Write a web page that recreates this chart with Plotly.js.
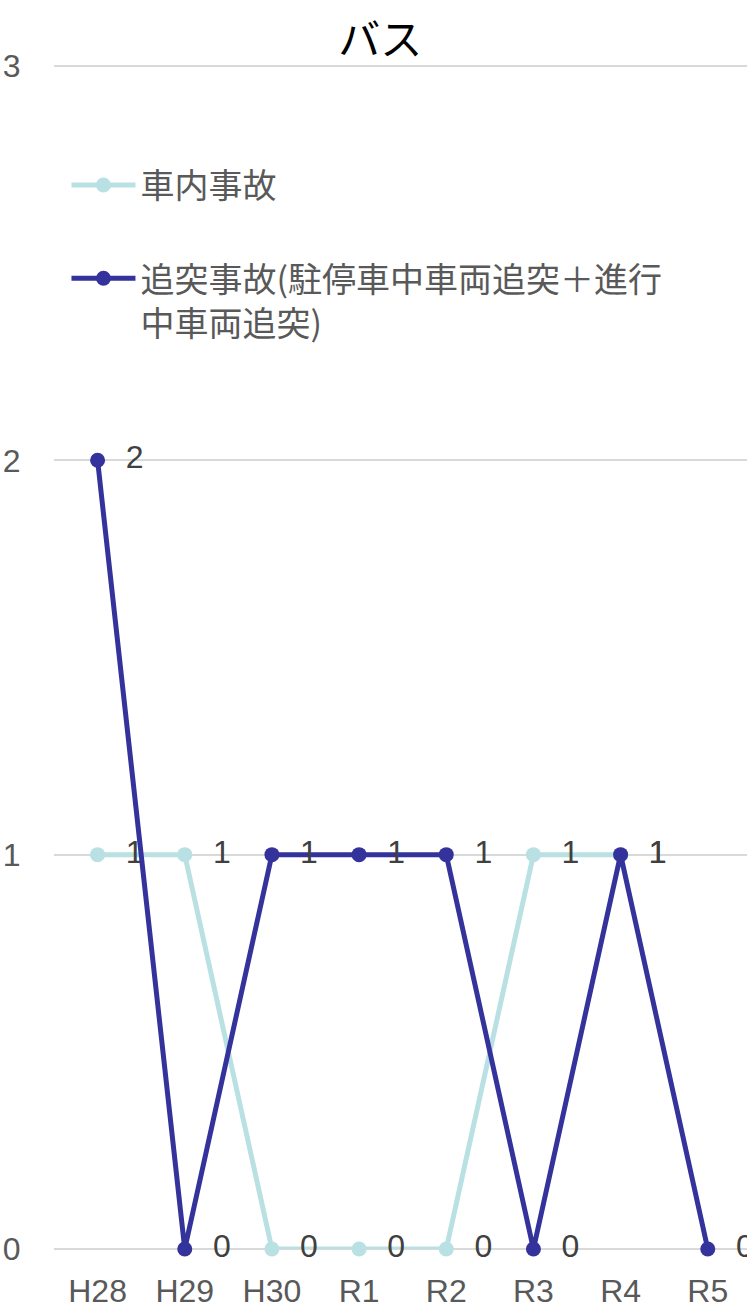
<!DOCTYPE html>
<html>
<head>
<meta charset="utf-8">
<script src="https://cdn.plot.ly/plotly-3.0.1.min.js"></script>
<style>html,body{margin:0;padding:0;background:#fff;}#chart{width:747px;height:1305px;}</style>
</head>
<body>
<div id="chart"></div>
<script>
const categories = ['H28','H29','H30','R1','R2','R3','R4','R5'];
const seriesNames = ['車内事故', '追突事故(駐停車中車両追突＋進行<br>中車両追突)'];
const inVehicle = [1, 1, 0, 0, 0, 1, 1, null];
const rearEnd = [2, 0, 1, 1, 1, 0, 1, 0];
const yTicks = [0, 1, 2, 3];

const FONT = 'Liberation Sans, Arial, Noto Sans CJK JP, sans-serif';
const NBSP = '\u00a0\u00a0';

function labels(arr){ return arr.map(v => v === null ? '' : NBSP + v); }

const traces = [
  {
    x: categories, y: inVehicle, name: seriesNames[0], type: 'scatter', mode: 'lines+markers+text',
    line: {color: '#b9e0e3', width: 5}, marker: {color: '#b9e0e3', size: 15},
    text: labels(inVehicle), textposition: 'middle right',
    textfont: {family: FONT, size: 32, color: '#404040'},
    cliponaxis: false, legendgroup: 'a', connectgaps: false
  },
  {
    x: categories, y: rearEnd, name: seriesNames[1], type: 'scatter', mode: 'lines+markers+text',
    line: {color: '#34339b', width: 5}, marker: {color: '#34339b', size: 15},
    text: labels(rearEnd), textposition: 'middle right',
    textfont: {family: FONT, size: 32, color: '#404040'},
    cliponaxis: false, legendgroup: 'b'
  }
];

const layout = {
  width: 747, height: 1305,
  margin: {l: 54, r: 0, t: 64, b: 56, pad: 0},
  paper_bgcolor: '#ffffff', plot_bgcolor: '#ffffff',
  font: {family: FONT, color: '#595959'},
  title: {text: 'バス', font: {family: 'Noto Sans CJK JP, sans-serif', size: 42, color: '#000000'},
          x: 0.509, xref: 'container', xanchor: 'center', y: 0.969, yref: 'container', yanchor: 'middle'},
  xaxis: {
    type: 'category', range: [-0.5, 7.45], showgrid: false, zeroline: false, showline: false,
    tickfont: {family: FONT, size: 32, color: '#595959'},
    ticks: 'outside', ticklen: 14, tickcolor: 'rgba(0,0,0,0)', fixedrange: true
  },
  yaxis: {
    range: [0, 3.005], tickvals: yTicks, ticktext: yTicks.map(String),
    showgrid: true, gridcolor: '#d9d9d9', gridwidth: 2,
    zeroline: true, zerolinecolor: '#d9d9d9', zerolinewidth: 2, showline: false,
    tickfont: {family: FONT, size: 32, color: '#595959'},
    ticks: 'outside', ticklen: 26, tickcolor: 'rgba(0,0,0,0)', fixedrange: true
  },
  showlegend: true,
  legend: {
    x: 0.018, xanchor: 'left', y: 0.922, yanchor: 'top',
    bgcolor: 'rgba(0,0,0,0)', font: {family: 'Noto Sans CJK JP, sans-serif', size: 34, color: '#595959'},
    traceorder: 'grouped', tracegroupgap: 46, valign: 'top', itemwidth: 64
  }
};

Plotly.newPlot('chart', traces, layout, {displayModeBar: false, staticPlot: true});
</script>
</body>
</html>
